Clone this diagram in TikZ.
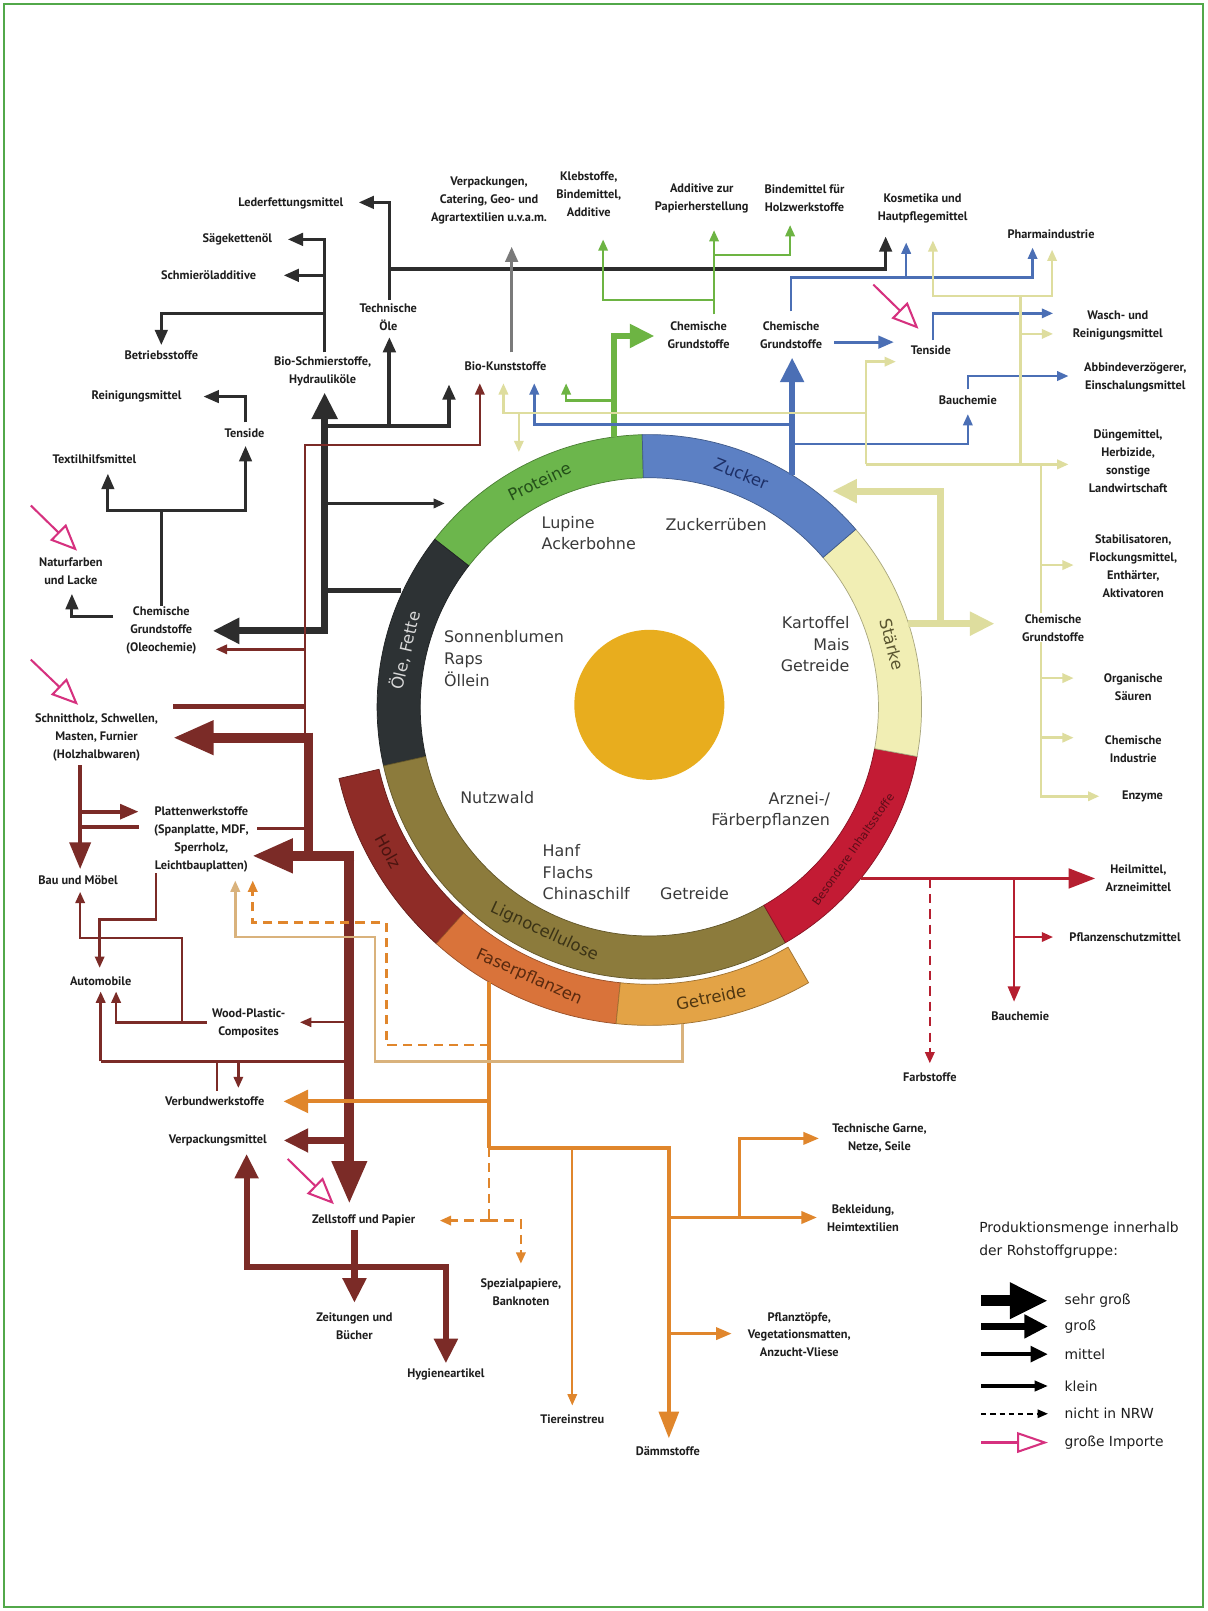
\documentclass[tikz,border=0pt]{standalone}
\usepackage{fontspec}
\setmainfont{DejaVu Sans}
\newfontfamily\ptsans{PT Sans}
\usetikzlibrary{arrows.meta,calc}
\definecolor{cFrame}{HTML}{52A84A}
\definecolor{cBlk}{HTML}{2D2D2D}
\definecolor{cGray}{HTML}{7A7A7A}
\definecolor{cGrn}{HTML}{6DB443}
\definecolor{cGrnB}{HTML}{6CB64C}
\definecolor{cBlu}{HTML}{4B6FB5}
\definecolor{cBluB}{HTML}{5C80C4}
\definecolor{cPale}{HTML}{DEDD9E}
\definecolor{cPaleB}{HTML}{F1EEB4}
\definecolor{cRed}{HTML}{B51F30}
\definecolor{cRedB}{HTML}{C31B34}
\definecolor{cBrn}{HTML}{7B2B27}
\definecolor{cHolz}{HTML}{8F2C27}
\definecolor{cOli}{HTML}{8C7B3C}
\definecolor{cOrg}{HTML}{E0862C}
\definecolor{cFaser}{HTML}{D9733A}
\definecolor{cTan}{HTML}{D9B27C}
\definecolor{cGetr}{HTML}{E3A346}
\definecolor{cImp}{HTML}{D6317F}
\definecolor{cDisk}{HTML}{E8AD1E}
\definecolor{cDark}{HTML}{2D3234}
\definecolor{cLab}{HTML}{1E1E1E}
\definecolor{cIn}{HTML}{3A3A3A}
\definecolor{tProt}{HTML}{24501A}
\definecolor{tZuck}{HTML}{1D2F66}
\definecolor{tStae}{HTML}{5A5530}
\definecolor{tOel}{HTML}{D8D8D8}
\definecolor{tLig}{HTML}{3B3316}
\definecolor{tRed}{HTML}{5C0D18}
\definecolor{tHolz}{HTML}{4A1410}
\definecolor{tFas}{HTML}{5A2A0F}
\definecolor{tGet}{HTML}{4F3611}
\newcommand\lblf{\ptsans\bfseries\fontsize{12}{17.5}\selectfont}
\newcommand\circf{\fontsize{15.5}{21}\selectfont}
\newcommand\ringf{\fontsize{16}{18}\selectfont}
\newcommand\ringsm{\fontsize{11}{13}\selectfont}
\newcommand\legf{\fontsize{13.5}{16}\selectfont}
\newcommand\ringseg[5]{%
  \filldraw[fill=#1, draw=#1!70!black, line width=0.7pt]
    ([shift={(#2:#5)}]C) arc[start angle=#2, end angle=#3, radius=#5]
    -- ([shift={(#3:#4)}]C) arc[start angle=#3, end angle=#2, radius=#4] -- cycle;}
\begin{document}
\begin{tikzpicture}[x=1pt,y=1pt,
  lbl/.style={font=\lblf, align=center, inner sep=1pt, text=cLab},
  circl/.style={font=\circf, inner sep=0pt, text=cIn},
  ringl/.style={font=\ringf, inner sep=0pt},
  legl/.style={font=\legf, inner sep=0pt, text=cLab, anchor=west},
  tS/.style={-{Triangle[length=11pt,width=9pt]}},
  tM/.style={-{Triangle[length=15pt,width=12pt]}},
  tL/.style={-{Triangle[length=24pt,width=22pt]}},
  tXL/.style={-{Triangle[length=40pt,width=31pt]}},
  imp/.style={draw=cImp, line width=2pt, -{Triangle[fill=white,length=26pt,width=22pt]}},
  dsh/.style={dash pattern=on 9pt off 6pt}]
\useasboundingbox (0,0) rectangle (1175,-1568);
\fill[white] (0,0) rectangle (1175,-1568);
\draw[cFrame, line width=2pt] (4,-4) rectangle (1171,-1564);
\coordinate (C) at (632,-688);
% ---------- ring ----------
\ringseg{cGrnB}{91.5}{142}{223}{265}
\ringseg{cDark}{142}{192.5}{223}{265}
\ringseg{cOli}{192.5}{300}{223}{265}
\ringseg{cRedB}{300}{349.5}{223}{265}
\ringseg{cPaleB}{349.5}{400.7}{223}{265}
\ringseg{cBluB}{40.7}{91.5}{223}{265}
\ringseg{cHolz}{193}{228}{270}{310}
\ringseg{cFaser}{228}{264}{270}{310}
\ringseg{cGetr}{264}{300}{270}{310}
\fill[cDisk] (632,-686) circle (73);
\node[ringl, text=tProt, rotate=26] (rProt) at ([shift={(116:244)}]C) {Proteine};
\node[ringl, text=tZuck, rotate=-21.5] (rZuck) at ([shift={(68.5:244)}]C) {Zucker};
\node[ringl, text=tStae, rotate=-75.5] (rStae) at ([shift={(14.5:244)}]C) {Stärke};
\node[ringl, text=tOel, rotate=77] (rOel) at ([shift={(167:244)}]C) {Öle, Fette};
\node[ringl, text=tLig, rotate=-25] (rLig) at ([shift={(245:242)}]C) {Lignocellulose};
\node[ringl, font=\ringsm, text=tRed, rotate=55] (rRed) at ([shift={(325:242)}]C) {Besondere Inhaltsstoffe};
\node[ringl, text=tHolz, rotate=-61] (rHolz) at ([shift={(209:290)}]C) {Holz};
\node[ringl, text=tFas, rotate=-24] (rFas) at ([shift={(246:288)}]C) {Faserpflanzen};
\node[ringl, text=tGet, rotate=12] (rGet) at ([shift={(282:289)}]C) {Getreide};
% inner labels
\node[circl, anchor=west, align=left] (lupine) at (527,-519) {Lupine\\Ackerbohne};
\node[circl] (zrueben) at (697,-511) {Zuckerrüben};
\node[circl, anchor=west, align=left] (sonnen) at (432,-641) {Sonnenblumen\\Raps\\Öllein};
\node[circl, anchor=east, align=right] (kartoffel) at (827,-627) {Kartoffel\\Mais\\Getreide};
\node[circl] (nutzwald) at (484,-776) {Nutzwald};
\node[circl, anchor=east, align=right] (arznei) at (808,-789) {Arznei-/\\Färberpflanzen};
\node[circl, anchor=west, align=left] (hanf) at (528,-849) {Hanf\\Flachs\\Chinaschilf};
\node[circl] (getrin) at (676,-870) {Getreide};
% ---------- coordinates ----------
\foreach \n/\x/\y in {k1/390/575,k2/316/575,k3/207/614,k4/316/382,k5/316/490,k6/433/490,
  k7/316/415,k8/379/328,k9/437/374,k10/379/292,k11/349/197,k12/379/262,k13/862/230,
  k14/316/343,k15/280/233,k16/316/268,k17/276/268,k18/316/305,k19/157/336,k20/157/590,
  k21/157/497,k22/105/461,k23/239/434,k24/239/411,k25/198/386,k26/110/600,k27/70/578,
  g1/498/343,g2/498/240,
  e1/598/425,e2/637/327,e3/598/390,e4/551/373,e5/695/306,e6/695/224,e7/695/292,e8/587/233,
  e9/695/248,e10/769/219,
  u1/771/462,u2/771/348,u3/771/413,u4/520/373,u5/771/432,u6/942/403,u7/942/379,u8/1040/366,
  u9/812/333,u10/870/333,u11/908/331,u12/1025/305,u13/770/303,u14/1005/270,u15/1005/241,
  u16/882/270,u17/882/236,
  p1/884/607,p2/968/607,p3/915/607,p4/810/478,p5/843/402,p6/490/402,p7/490/373,p8/505/402,
  p9/505/440,p10/843/452,p11/872/352,p12/1040/452,p13/993/452,p14/993/288,p15/908/234,
  p16/1024/243,p17/993/325,p18/1025/325,p19/1013/452,p20/1070/775,p21/1013/550,p22/1045/550,
  p23/1013/660,p24/1045/660,p25/1013/718,p26/1045/718,
  r1/838/855,r2/1066/855,r3/905/855,r4/905/1035,r5/987/855,r6/987/975,r7/987/912,r8/1025/912,
  w1/297/830,w2/467/433,w3/467/373,w4/297/632,w5/210/632,w6/297/688,w7/168/688,w8/303/718,
  w9/168/718,w10/300/713,w11/300/833,w12/297/806,w13/250/806,w14/345/833,w15/245/833,
  w16/340/828,w17/340/1172,w18/340/995,w19/292/995,w20/340/1033,w21/98/1033,w22/98/965,
  w23/211/1033,w24/211/1062,w25/232/1033,w26/232/1059,w27/340/1110,w28/276/1110,
  w29/345/1197,w30/345/1268,w31/240/1123,w32/434/1233,w33/434/1327,w34/78/745,w35/78/846,
  w36/78/790,w37/135/790,w38/78/805,w39/135/805,w40/152/850,w41/97/895,w42/97/942,
  w43/177/995,w44/78/913,w45/78/868,w46/201/995,w47/113/965,
  o1/476/956,o2/476/1117,o3/476/1072,o4/276/1072,o5/651/1400,o6/557/1117,o7/557/1368,
  o8/651/1185,o9/795/1185,o10/720/1185,o11/797/1108,o12/651/1298,o13/712/1298,
  o14/476/1188,o15/428/1188,o16/507/1230,o17/476/1017,o18/376/898,o19/246/857,
  t1/664/997,t2/365/1033,t3/229/912,t4/229/857,
  i1a/30/492,i1b/75/536,i2a/30/642,i2b/76/686,i3a/280/1128,i3b/325/1172,i4a/850/277,i4b/894/320,
  l1a/955/1266,l1b/1020/1266,l2a/955/1291,l2b/1020/1291,l3a/955/1318,l3b/1020/1318,
  l4a/955/1349,l4b/1020/1349,l5a/955/1376,l5b/1020/1376,l6a/955/1404,l6b/1020/1404}
  {\coordinate (\n) at (\x,-\y);}
% ---------- black (Öle, Fette) ----------
\draw[cBlk, line width=5pt] (k1) -- (k2);
\draw[cBlk, line width=7pt, {Triangle[length=26pt,width=24pt]}-{Triangle[length=26pt,width=24pt]}] (k3) -| (k4);
\draw[cBlk, line width=3pt, tS] (k5) -- (k6);
\draw[cBlk, line width=4pt, tM] (k7) -| (k8);
\draw[cBlk, line width=4pt, tM] (k7) -| (k9);
\draw[cBlk, line width=3.5pt, tM] (k10) |- (k11);
\draw[cBlk, line width=3.5pt, tM] (k12) -| (k13);
\draw[cBlk, line width=3.5pt, tM] (k14) |- (k15);
\draw[cBlk, line width=3.5pt, tM] (k16) -- (k17);
\draw[cBlk, line width=3.5pt, tM] (k18) -| (k19);
\draw[cBlk, line width=3pt] (k20) -- (k21);
\draw[cBlk, line width=3pt, tM] (k21) -| (k22);
\draw[cBlk, line width=3pt, tM] (k21) -| (k23);
\draw[cBlk, line width=3pt, tM] (k24) |- (k25);
\draw[cBlk, line width=3pt, tM] (k26) -| (k27);
% gray
\draw[cGray, line width=3.5pt, tM] (g1) -- (g2);
% ---------- green (Proteine) ----------
\draw[cGrn, line width=6pt, tL] (e1) |- (e2);
\draw[cGrn, line width=2.5pt, tS] (e3) -| (e4);
\draw[cGrn, line width=2.5pt, tS] (e5) -- (e6);
\draw[cGrn, line width=2.5pt, tS] (e7) -| (e8);
\draw[cGrn, line width=2.5pt, tS] (e9) -| (e10);
% ---------- blue (Zucker) ----------
\draw[cBlu, line width=6pt, tL] (u1) -- (u2);
\draw[cBlu, line width=2.5pt, tS] (u3) -| (u4);
\draw[cBlu, line width=2.5pt, tS] (u5) -| (u6);
\draw[cBlu, line width=2.5pt, tS] (u7) |- (u8);
\draw[cBlu, line width=3pt, tM] (u9) -- (u10);
\draw[cBlu, line width=2.5pt, tS] (u11) |- (u12);
\draw[cBlu, line width=2.5pt, tS] (u13) |- (u14) -- (u15);
\draw[cBlu, line width=2.5pt, tS] (u16) -- (u17);
% ---------- pale (Stärke) ----------
\draw[cPale, line width=7pt, tL] (p1) -- (p2);
\draw[cPale, line width=7pt, tL] (p3) |- (p4);
\draw[cPale, line width=2.5pt, tS] (p5) -- (p6) -- (p7);
\draw[cPale, line width=2.5pt, tS] (p8) -- (p9);
\draw[cPale, line width=2.5pt, tS] (p10) |- (p11);
\draw[cPale, line width=2.5pt, tS] (p10) -- (p12);
\draw[cPale, line width=2.5pt] (p13) -- (p14);
\draw[cPale, line width=2.5pt, tS] (p14) -| (p15);
\draw[cPale, line width=2.5pt, tS] (p14) -| (p16);
\draw[cPale, line width=2.5pt, tS] (p17) -- (p18);
\draw[cPale, line width=2.5pt, tS] (p19) |- (p20);
\draw[cPale, line width=2.5pt, tS] (p21) -- (p22);
\draw[cPale, line width=2.5pt, tS] (p23) -- (p24);
\draw[cPale, line width=2.5pt, tS] (p25) -- (p26);
% ---------- red ----------
\draw[cRed, line width=3.5pt, -{Triangle[length=26pt,width=19pt]}] (r1) -- (r2);
\draw[cRed, line width=2.5pt, dsh, tS] (r3) -- (r4);
\draw[cRed, line width=2.5pt, tM] (r5) -- (r6);
\draw[cRed, line width=2.5pt, tS] (r7) -- (r8);
% ---------- brown (Holz) ----------
\draw[cBrn, line width=2.5pt, tS] (w1) |- (w2) -- (w3);
\draw[cBrn, line width=2.5pt, tS] (w4) -- (w5);
\draw[cBrn, line width=5pt] (w6) -- (w7);
\draw[cBrn, line width=10pt, tXL] (w8) -- (w9);
\draw[cBrn, line width=9pt] (w10) -- (w11);
\draw[cBrn, line width=3pt] (w12) -- (w13);
\draw[cBrn, line width=10pt, tXL] (w14) -- (w15);
\draw[cBrn, line width=10pt, -{Triangle[length=42pt,width=32pt]}] (w16) -- (w17);
\draw[cBrn, line width=2pt, tS] (w18) -- (w19);
\draw[cBrn, line width=2.5pt] (w20) -- (w21);
\draw[cBrn, line width=2.5pt, tS] (w21) -- (w22);
\draw[cBrn, line width=2.5pt] (w23) -- (w24);
\draw[cBrn, line width=2.5pt, tS] (w25) -- (w26);
\draw[cBrn, line width=6pt, tL] (w27) -- (w28);
\draw[cBrn, line width=6pt, tL] (w29) -- (w30);
\draw[cBrn, line width=6pt, {Triangle[length=24pt,width=22pt]}-{Triangle[length=24pt,width=22pt]}] (w31) |- (w32) -- (w33);
\draw[cBrn, line width=4.5pt, -{Triangle[length=26pt,width=20pt]}] (w34) -- (w35);
\draw[cBrn, line width=4pt, -{Triangle[length=18pt,width=14pt]}] (w36) -- (w37);
\draw[cBrn, line width=4pt] (w38) -- (w39);
\draw[cBrn, line width=2.5pt, tS] (w40) |- (w41) -- (w42);
\draw[cBrn, line width=2.5pt, tS] (w43) |- (w44) -- (w45);
\draw[cBrn, line width=2.5pt, tS] (w46) -| (w47);
% ---------- orange (Faserpflanzen) ----------
\draw[cOrg, line width=3.5pt] (o1) -- (o2);
\draw[cOrg, line width=4pt, tL] (o3) -- (o4);
\draw[cOrg, line width=4pt, -{Triangle[length=26pt,width=19pt]}] (o2) -| (o5);
\draw[cOrg, line width=2.2pt, tS] (o6) -- (o7);
\draw[cOrg, line width=2.5pt, tM] (o8) -- (o9);
\draw[cOrg, line width=2.5pt, tM] (o10) |- (o11);
\draw[cOrg, line width=2.5pt, tM] (o12) -- (o13);
\draw[cOrg, line width=2.5pt, dsh] (o2) -- (o14);
\draw[cOrg, line width=2.5pt, dsh, tS] (o14) -- (o15);
\draw[cOrg, line width=2.5pt, dsh, tS] (o14) -| (o16);
\draw[cOrg, line width=2.5pt, dsh, tS] (o17) -| (o18) -| (o19);
% tan (Getreide)
\draw[cTan, line width=2.5pt, tS] (t1) |- (t2) |- (t3) -- (t4);
% imports
\draw[imp] (i1a) -- (i1b);
\draw[imp] (i2a) -- (i2b);
\draw[imp] (i3a) -- (i3b);
\draw[imp] (i4a) -- (i4b);
% ---------- labels ----------
\node[lbl] (lederfett) at (283,-198) {Lederfettungsmittel};
\node[lbl] (verpack) at (476,-195) {Verpackungen,\\Catering, Geo- und\\Agrartextilien u.v.a.m.};
\node[lbl] (kleb) at (573,-189) {Klebstoffe,\\Bindemittel,\\Additive};
\node[lbl] (addpap) at (683,-193) {Additive zur\\Papierherstellung};
\node[lbl] (bindholz) at (783,-193) {Bindemittel für\\Holzwerkstoffe};
\node[lbl] (kosmetik) at (898,-203) {Kosmetika und\\Hautpflegemittel};
\node[lbl] (pharma) at (1023,-228) {Pharmaindustrie};
\node[lbl] (saege) at (231,-233) {Sägekettenöl};
\node[lbl] (schmieradd) at (203,-268) {Schmieröladditive};
\node[lbl] (technoel) at (378,-309) {Technische\\Öle};
\node[lbl] (betrieb) at (157,-346) {Betriebsstoffe};
\node[lbl] (bioschmier) at (314,-361) {Bio-Schmierstoffe,\\Hydrauliköle};
\node[lbl] (biokunst) at (492,-356) {Bio-Kunststoffe};
\node[lbl] (chemgr) at (680,-326) {Chemische\\Grundstoffe};
\node[lbl] (chembl) at (770,-326) {Chemische\\Grundstoffe};
\node[lbl] (tensideR) at (906,-341) {Tenside};
\node[lbl] (wasch) at (1088,-317) {Wasch- und\\Reinigungsmittel};
\node[lbl] (abbinde) at (1105,-367) {Abbindeverzögerer,\\Einschalungsmittel};
\node[lbl] (bauchemB) at (942,-390) {Bauchemie};
\node[lbl] (reinig) at (133,-386) {Reinigungsmittel};
\node[lbl] (tensideL) at (238,-422) {Tenside};
\node[lbl] (textil) at (92,-447) {Textilhilfsmittel};
\node[lbl] (dueng) at (1098,-449) {Düngemittel,\\Herbizide,\\sonstige\\Landwirtschaft};
\node[lbl] (naturf) at (69,-556) {Naturfarben\\und Lacke};
\node[lbl] (stabil) at (1103,-551) {Stabilisatoren,\\Flockungsmittel,\\Enthärter,\\Aktivatoren};
\node[lbl] (oleo) at (157,-614) {Chemische\\Grundstoffe\\(Oleochemie)};
\node[lbl, fill=white] (chemst) at (1025,-611) {Chemische\\Grundstoffe};
\node[lbl] (orgsaeure) at (1103,-669) {Organische\\Säuren};
\node[lbl] (schnitt) at (94,-718) {Schnittholz, Schwellen,\\Masten, Furnier\\(Holzhalbwaren)};
\node[lbl] (chemind) at (1103,-729) {Chemische\\Industrie};
\node[lbl] (enzyme) at (1112,-775) {Enzyme};
\node[lbl] (platten) at (196,-817) {Plattenwerkstoffe\\(Spanplatte, MDF,\\Sperrholz,\\Leichtbauplatten)};
\node[lbl] (heil) at (1108,-855) {Heilmittel,\\Arzneimittel};
\node[lbl] (baumoebel) at (76,-857) {Bau und Möbel};
\node[lbl] (pflschutz) at (1095,-912) {Pflanzenschutzmittel};
\node[lbl] (auto) at (98,-955) {Automobile};
\node[lbl] (bauchemR) at (993,-989) {Bauchemie};
\node[lbl] (wpc) at (242,-996) {Wood-Plastic-\\Composites};
\node[lbl] (farb) at (905,-1048) {Farbstoffe};
\node[lbl] (verbund) at (209,-1072) {Verbundwerkstoffe};
\node[lbl] (garne) at (856,-1108) {Technische Garne,\\Netze, Seile};
\node[lbl] (verpm) at (212,-1110) {Verpackungsmittel};
\node[lbl] (zellstoff) at (354,-1188) {Zellstoff und Papier};
\node[lbl] (bekleid) at (840,-1186) {Bekleidung,\\Heimtextilien};
\node[lbl] (spezial) at (507,-1258) {Spezialpapiere,\\Banknoten};
\node[lbl] (zeitung) at (345,-1291) {Zeitungen und\\Bücher};
\node[lbl] (pflanzt) at (778,-1299) {Pflanztöpfe,\\Vegetationsmatten,\\Anzucht-Vliese};
\node[lbl] (hygiene) at (434,-1338) {Hygieneartikel};
\node[lbl] (tierein) at (557,-1381) {Tiereinstreu};
\node[lbl] (daemm) at (650,-1412) {Dämmstoffe};
% ---------- legend ----------
\node[legl] (legt1) at (953,-1196) {Produktionsmenge innerhalb};
\node[legl] (legt2) at (953,-1218) {der Rohstoffgruppe:};
\draw[black, line width=11pt, -{Triangle[length=37pt,width=33pt]}] (l1a) -- (l1b);
\draw[black, line width=7pt, -{Triangle[length=23pt,width=22pt]}] (l2a) -- (l2b);
\draw[black, line width=4.5pt, -{Triangle[length=17pt,width=15pt]}] (l3a) -- (l3b);
\draw[black, line width=3pt, -{Triangle[length=13pt,width=10pt]}] (l4a) -- (l4b);
\draw[black, line width=2pt, dash pattern=on 5pt off 4pt, -{Triangle[length=10pt,width=8pt]}] (l5a) -- (l5b);
\draw[cImp, line width=2pt, -{Triangle[fill=white,length=30pt,width=20pt]}] (l6a) -- (l6b);
\node[legl] (leg1) at (1036,-1266) {sehr groß};
\node[legl] (leg2) at (1036,-1291) {groß};
\node[legl] (leg3) at (1036,-1318) {mittel};
\node[legl] (leg4) at (1036,-1349) {klein};
\node[legl] (leg5) at (1036,-1376) {nicht in NRW};
\node[legl] (leg6) at (1036,-1404) {große Importe};
\end{tikzpicture}
\end{document}
